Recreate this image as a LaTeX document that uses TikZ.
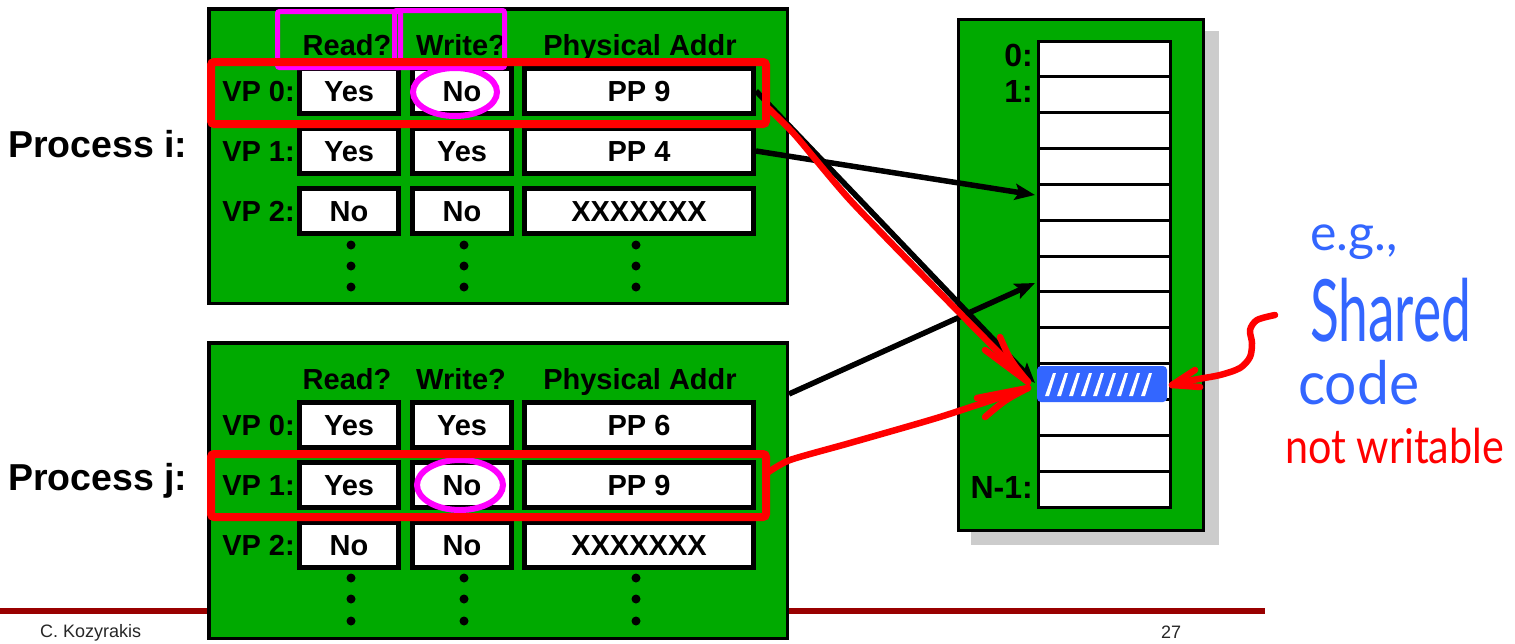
\documentclass[tikz,border=0pt]{standalone}
\usepackage{fontspec}
\setmainfont{Liberation Sans}
\newfontfamily\hand{Lato}
\usetikzlibrary{arrows.meta,calc}
\definecolor{ggreen}{RGB}{0,170,0}
\definecolor{mag}{RGB}{255,0,255}
\definecolor{hred}{RGB}{255,0,0}
\definecolor{hblue}{RGB}{51,102,255}
\definecolor{foot}{RGB}{153,0,0}
\definecolor{shadowgray}{RGB}{204,204,204}
\begin{document}
\begin{tikzpicture}[x=1pt,y=-1pt,
  gbox/.style={draw=black, fill=ggreen, line width=3.5pt, inner sep=0pt},
  cell/.style={draw=black, fill=white, line width=5pt, inner sep=0pt,
    minimum height=45pt, text height=20.8pt, text depth=0pt,
    font=\bfseries\fontsize{29}{30}\selectfont},
  hdr/.style={anchor=base, inner sep=0pt, font=\bfseries\fontsize{29}{30}\selectfont},
  vplab/.style={anchor=base east, inner sep=0pt, font=\bfseries\fontsize{29}{30}\selectfont},
  proc/.style={anchor=base west, inner sep=0pt, font=\bfseries\fontsize{37.5}{40}\selectfont},
  memcell/.style={draw=black, fill=white, line width=3pt, inner sep=0pt,
    minimum width=132pt, minimum height=35.85pt},
  memlab/.style={anchor=base east, inner sep=0pt, font=\bfseries\fontsize{32}{34}\selectfont},
  blk/.style={draw=black, line width=5.5pt, -{Stealth[length=20pt,width=16pt,inset=4pt]}},
  hr/.style={draw=hred, line width=6.5pt, line cap=round, line join=round},
  redrect/.style={draw=hred, line width=8pt, rounded corners=3pt, inner sep=0pt},
  magrect/.style={draw=mag, line width=5pt, rounded corners=2pt, inner sep=0pt},
  footxt/.style={inner sep=0pt, text=black!85, font=\fontsize{18}{20}\selectfont},
  handb/.style={inner sep=0pt, text=hblue},
  dot/.style={fill=black}
]
\useasboundingbox (0,0) rectangle (1515,643);

% footer
\coordinate (fl) at (0,611);
\coordinate (fr) at (1265,611);
\draw[foot, line width=6pt] (fl) -- (fr);
\node[footxt, anchor=base west] (auth) at (40,637) {C. Kozyrakis};
\node[footxt, anchor=base] (pg) at (1171,638) {27};

% physical memory
\fill[shadowgray] (971,31) rectangle (1219,545);
\node[draw=black, fill=ggreen, line width=3pt, inner sep=0pt,
  minimum width=245pt, minimum height=511pt] (mem) at (1081,275) {};
\foreach \k in {0,...,12}{
  \node[memcell] (m\k) at (1104.5,{41+35.85*(\k+0.5)}) {};
}
\node[memlab] (l0) at (1033,66) {0:};
\node[memlab] (l1) at (1033,102) {1:};
\node[memlab] (lN) at (1033,498) {N-1:};

% process boxes
\node[gbox, minimum width=578.5pt, minimum height=294.5pt] (tbox) at (498,156) {};
\node[gbox, minimum width=578.5pt, minimum height=295.5pt] (bbox) at (498,490.5) {};

\node[proc] (pi) at (8,157) {Process i:};
\node[proc] (pj) at (8,490) {Process j:};

% headers
\node[hdr] (ihr) at (347,55) {Read?};
\node[hdr] (ihw) at (461,55) {Write?};
\node[hdr] (ihp) at (640,55) {Physical Addr};
\node[hdr] (jhr) at (347,389) {Read?};
\node[hdr] (jhw) at (461,389) {Write?};
\node[hdr] (jhp) at (640,389) {Physical Addr};

% process i rows
\foreach \r/\y/\a/\b/\c in {0/91/Yes/No/PP 9, 1/151/Yes/Yes/PP 4, 2/211/No/No/XXXXXXX}{
  \node[vplab] (ivp\r) at (295,\y+10.4) {VP \r:};
  \node[cell, minimum width=99pt] (ir\r) at (349,\y) {\a};
  \node[cell, minimum width=99pt] (iw\r) at (462,\y) {\b};
  \node[cell, minimum width=229pt] (ip\r) at (639,\y) {\c};
}
% process j rows
\foreach \r/\y/\a/\b/\c in {0/425/Yes/Yes/PP 6, 1/485/Yes/No/PP 9, 2/545/No/No/XXXXXXX}{
  \node[vplab] (jvp\r) at (295,\y+10.4) {VP \r:};
  \node[cell, minimum width=99pt] (jr\r) at (349,\y) {\a};
  \node[cell, minimum width=99pt] (jw\r) at (462,\y) {\b};
  \node[cell, minimum width=229pt] (jp\r) at (639,\y) {\c};
}
% dots
\foreach \x in {351,464,636}{
  \foreach \y in {245,266,287}{ \fill[dot] (\x,\y) circle (4.5); }
  \foreach \y in {578,599,621}{ \fill[dot] (\x,\y) circle (4.5); }
}

% black arrows
\coordinate (t4) at (1035,195);
\coordinate (t6) at (1035,283);
\coordinate (t9) at (1035,383);
\coordinate (bedge) at (789,394);
\draw[blk] (ip1.east) -- (t4);
\draw[blk] (ip0.east) -- (t9);
\draw[blk] (bedge) -- (t6);

% blue hatched page
\node[fill=hblue, rounded corners=4pt, inner sep=0pt,
  minimum width=130pt, minimum height=36pt] (hatch) at (1102,384) {};
\foreach \x in {1045,1057,...,1150}{
  \fill[white] (\x,396) -- (\x+4,396) -- (\x+11,373) -- (\x+8,373) -- cycle;
}

% magenta marks
\node[magrect, minimum width=123pt, minimum height=56pt] (mr) at (339,39.5) {};
\node[magrect, minimum width=110pt, minimum height=57pt] (mw) at (449.5,39) {};
\draw[mag, line width=6pt] (455,92) ellipse [x radius=42, y radius=24];
\draw[mag, line width=6pt] (460,485) ellipse [x radius=43, y radius=25];

% red rectangles
\node[redrect, minimum width=555pt, minimum height=62pt] (rr1) at (488.5,93) {};
\node[redrect, minimum width=555pt, minimum height=63pt] (rr2) at (488.5,485.5) {};

% red hand-drawn arrows
\coordinate (h9) at (1028,382);
\coordinate (h9b) at (1028,388);
\draw[hr] plot[smooth, tension=0.4] coordinates {(766,106) (795,135) (850,200) (940,293) (h9)};
\draw[hr] (985,350) -- (h9);
\draw[hr] (1000,337) .. controls (1010,360) .. (h9);
\draw[hr] plot[smooth, tension=0.4] coordinates {(767,473) (790,460) (850,443) (940,417) (h9b)};
\draw[hr] (977,398) -- (h9b);
\draw[hr] (985,417) .. controls (1005,400) .. (h9b);

\coordinate (sh) at (1172,385);
\draw[hr] plot[smooth] coordinates {(1275,315) (1257,320) (1250,330) (1252,343) (1250,357) (1240,368) (1220,375) (1193,380) (sh)};
\draw[hr] (1195,370) -- (sh);
\draw[hr] (1200,387) -- (sh);

% handwritten notes
\node[handb, anchor=base west, font=\hand\fontsize{50}{52}\selectfont] (eg) at (1310,250) {e.g.,};
\node[handb, anchor=base west, xscale=0.62, font=\hand\fontsize{86}{88}\selectfont] (sharedt) at (1310,341) {Shared};
\node[handb, anchor=base west, xscale=0.95, font=\hand\fontsize{60}{62}\selectfont] (codet) at (1298,404) {code};
\node[inner sep=0pt, text=hred, anchor=base west, xscale=0.86, font=\hand\fontsize{48}{50}\selectfont] (nw) at (1285,463) {not writable};
\end{tikzpicture}
\end{document}
